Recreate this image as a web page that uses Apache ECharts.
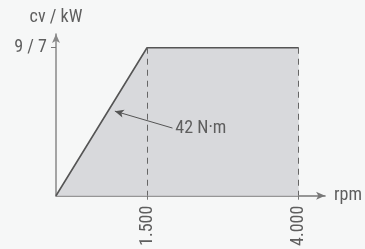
<!DOCTYPE html>
<html>
<head>
<meta charset="utf-8">
<script src="https://cdn.jsdelivr.net/npm/echarts@6/dist/echarts.min.js"></script>
<style>
  html, body { margin: 0; padding: 0; background: #f6f7f7; }
  #chart { width: 365px; height: 249px; }
</style>
</head>
<body>
<div id="chart"></div>
<script>
// rpm / power curve points
const rpm = [0, 1500, 4000];
const power = [0, 7, 7];
const xTicks = [1500, 4000];
const xTickLabels = ['1.500', '4.000'];
const yTicks = [7];
const yTickLabels = ['9 / 7'];
const torqueLabel = '42 N·m';
// arrow of the torque note: from [rpm, power] to [rpm, power]
const noteFrom = [1920, 3.2];
const noteTo = [970, 4.0];

const font = "'Liberation Sans Narrow', 'Roboto Condensed', 'DejaVu Sans Condensed', sans-serif";
const txt = '#5e5e5e';

const chart = echarts.init(document.getElementById('chart'));
const option = {
  backgroundColor: '#f6f7f7',
  animation: false,
  grid: { left: 56, right: 33, top: 34, bottom: 50 },
  xAxis: {
    type: 'value',
    min: 0,
    max: 4435,
    name: 'rpm',
    nameLocation: 'end',
    nameGap: 9,
    nameTextStyle: { color: txt, fontSize: 18, fontFamily: font },
    splitLine: { show: false },
    axisLine: { lineStyle: { color: '#777', width: 1.5 }, symbol: ['none', 'arrow'], symbolSize: [6, 9] },
    axisTick: { show: true, length: 4, lineStyle: { color: '#777' }, customValues: xTicks },
    axisLabel: {
      customValues: xTicks,
      rotate: 90,
      margin: 10,
      color: txt,
      fontSize: 18,
      fontFamily: font,
      formatter: v => xTickLabels[xTicks.indexOf(v)]
    }
  },
  yAxis: {
    type: 'value',
    min: 0,
    max: 7.65,
    name: 'cv / kW',
    nameLocation: 'end',
    nameGap: 8,
    nameTextStyle: { color: txt, fontSize: 18, fontFamily: font, align: 'center' },
    splitLine: { show: false },
    axisLine: { show: true, lineStyle: { color: '#888', width: 1.5 }, symbol: ['none', 'arrow'], symbolSize: [6, 9] },
    axisTick: { show: true, length: 5, lineStyle: { color: '#777' }, customValues: yTicks },
    axisLabel: {
      customValues: yTicks,
      margin: 9,
      color: txt,
      fontSize: 18,
      fontFamily: font,
      formatter: v => yTickLabels[yTicks.indexOf(v)]
    }
  },
  series: [{
    type: 'line',
    data: rpm.map((r, i) => [r, power[i]]),
    symbol: 'none',
    lineStyle: { color: '#555', width: 1.6 },
    areaStyle: { color: '#d8d9dc', opacity: 1 },
    markLine: {
      silent: true,
      symbol: 'none',
      lineStyle: { color: '#666', type: [6, 5], width: 1 },
      label: { show: false },
      data: [
        [{ coord: [rpm[1], power[1]] }, { coord: [rpm[1], 0] }],
        [{ coord: [rpm[2], power[2]] }, { coord: [rpm[2], 0] }],
        [
          {
            coord: noteFrom,
            symbol: 'none',
            lineStyle: { type: 'solid', color: '#555', width: 1 },
            label: {
              show: true,
              position: 'start',
              formatter: torqueLabel,
              color: txt,
              fontSize: 18,
              fontFamily: font,
              distance: 3
            }
          },
          { coord: noteTo, symbol: 'arrow', symbolSize: [6, 9] }
        ]
      ]
    }
  }]
};
chart.setOption(option);
</script>
</body>
</html>
